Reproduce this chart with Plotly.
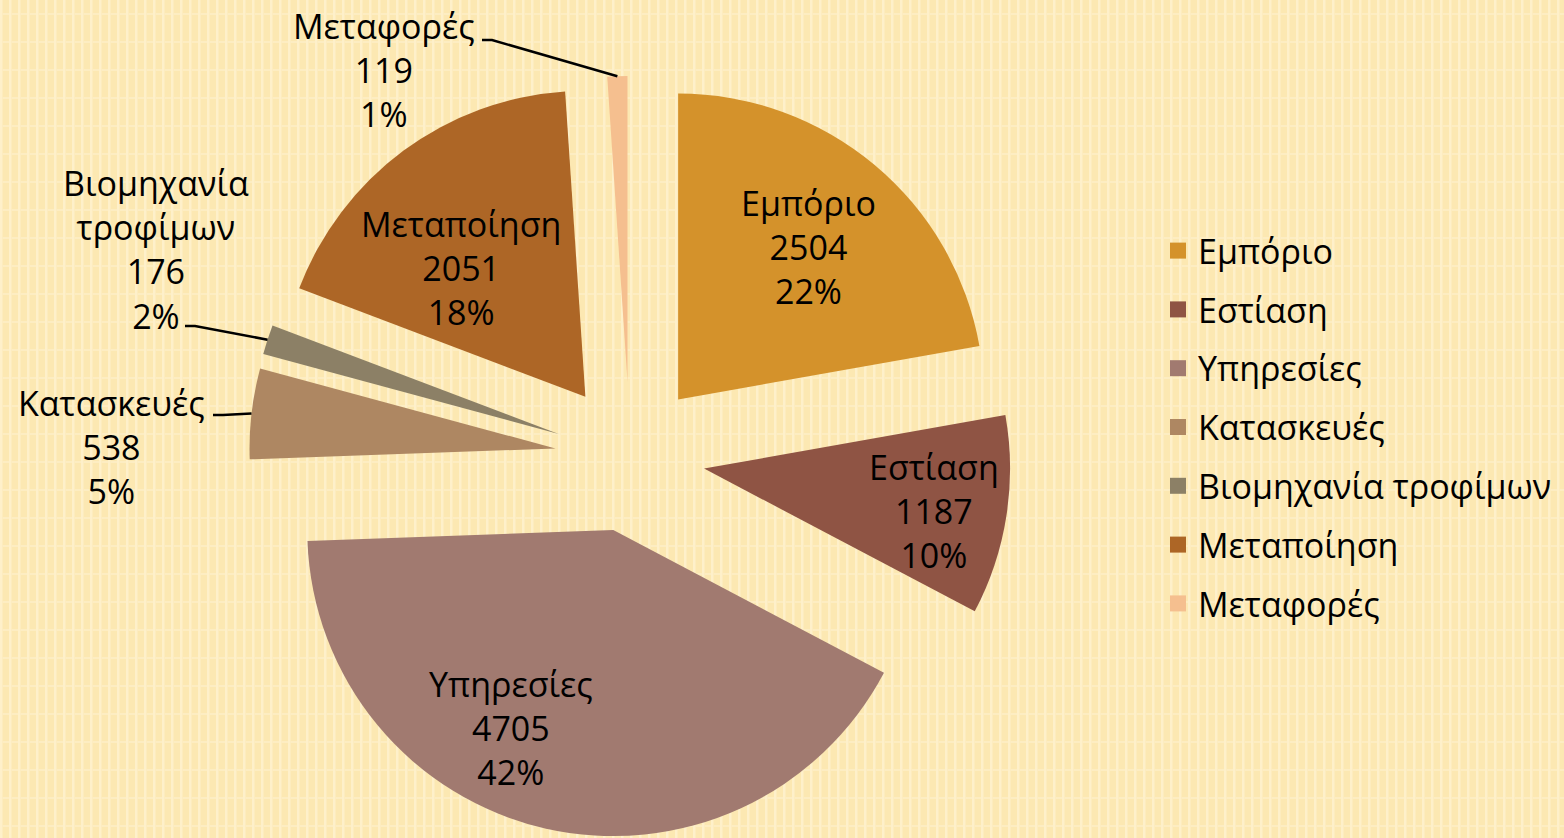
import math, base64
import plotly.graph_objects as go

# ---- data ----
categories = ["Εμπόριο", "Εστίαση", "Υπηρεσίες", "Κατασκευές",
              "Βιομηχανία τροφίμων", "Μεταποίηση", "Μεταφορές"]
values = [2504, 1187, 4705, 538, 176, 2051, 119]
percent_labels = [22, 10, 42, 5, 2, 18, 1]   # as printed on the chart
colors = ["#D4922B", "#8F5444", "#A17A70", "#AE8762", "#8C8066", "#AD6626", "#F5BF8F"]

W, H = 1564, 838
FONT = "Open Sans"
FS = 34

# pie geometry (pixels)
cx, cy, R, PULL = 630, 457, 306, 0.245
half = R * (1 + PULL)

fig = go.Figure()
fig.add_trace(go.Pie(
    labels=categories, values=values, sort=False, direction="clockwise", rotation=0,
    marker=dict(colors=colors, line=dict(width=0)),
    pull=[PULL] * len(values),
    textinfo="none",
    hoverinfo="label+value+percent",
    showlegend=False,
    domain=dict(x=[(cx - half) / W, (cx + half) / W],
                y=[max(0, (H - cy - half) / H), (H - cy + half) / H]),
))

# legend via dummy traces (allows item spacing)
for cat, col in zip(categories, colors):
    fig.add_trace(go.Scatter(x=[None], y=[None], mode="markers", name=cat,
                             legendgroup=cat,
                             marker=dict(symbol="square", size=20, color=col)))

total = sum(values)
cum = 0
mids = []
for v in values:
    mids.append((cum + v / 2) / total * 2 * math.pi)
    cum += v

def tip(i):
    a = mids[i]
    d = R * (1 + PULL)
    return cx + d * math.sin(a), cy - d * math.cos(a)

def px(x, y):
    return x / W, 1 - y / H

# label block centres (pixels)
label_pos = {0: (808, 247), 1: (934, 511), 2: (511, 728), 3: (111, 447),
             4: (156, 250), 5: (461, 268), 6: (384, 70)}
# leader line starts for outside labels (pixels)
leader_start = {6: (482, 40), 4: (185, 326), 3: (213, 415)}

annotations = []
shapes = []
for i, (tx, ty) in label_pos.items():
    lab = categories[i].replace(" ", "<br>") if i in leader_start else categories[i]
    ax_, ay_ = px(tx, ty)
    annotations.append(dict(x=ax_, y=ay_, xref="paper", yref="paper", showarrow=False,
                            text=f"{lab}<br>{values[i]}<br>{percent_labels[i]}%",
                            font=dict(family=FONT, size=FS, color="black"),
                            xanchor="center", yanchor="middle", align="center"))
for i, (lx, ly) in leader_start.items():
    x0, y0 = px(lx, ly)
    x1, y1 = px(lx + 10, ly)
    tx2, ty2 = px(*tip(i))
    shapes.append(dict(type="path", xref="paper", yref="paper",
                       path=f"M {x0},{y0} L {x1},{y1} L {tx2},{ty2}",
                       line=dict(color="black", width=2.5)))

# background texture (svg pattern)
svg = f'''<svg xmlns="http://www.w3.org/2000/svg" width="{W}" height="{H}" viewBox="0 0 {W} {H}">
<defs><pattern id="p" width="9" height="28" patternUnits="userSpaceOnUse">
<rect width="9" height="28" fill="#FCE8B2"/>
<rect x="0" y="0" width="2.5" height="28" fill="#FEF0CA"/>
<rect x="2.5" y="13" width="6.5" height="2" fill="#FDEDC2"/>
</pattern></defs>
<rect width="{W}" height="{H}" fill="url(#p)"/></svg>'''
src = "data:image/svg+xml;base64," + base64.b64encode(svg.encode()).decode()

fig.update_layout(
    width=W, height=H,
    margin=dict(l=0, r=0, t=0, b=0),
    paper_bgcolor="#FCE9B5", plot_bgcolor="rgba(0,0,0,0)",
    xaxis=dict(visible=False), yaxis=dict(visible=False),
    images=[dict(source=src, xref="paper", yref="paper", x=0, y=1, sizex=1, sizey=1,
                 sizing="stretch", layer="below", xanchor="left", yanchor="top")],
    annotations=annotations, shapes=shapes,
    legend=dict(x=1158 / W, y=(H - 222) / H, xanchor="left", yanchor="top",
                font=dict(family=FONT, size=FS, color="black"),
                bgcolor="rgba(0,0,0,0)", tracegroupgap=11.6, itemsizing="trace"),
    font=dict(family=FONT),
)
fig.write_html("out.html", config={"displayModeBar": False},
               post_script="document.body.style.margin='0';document.body.style.background='#FCE9B5';")
